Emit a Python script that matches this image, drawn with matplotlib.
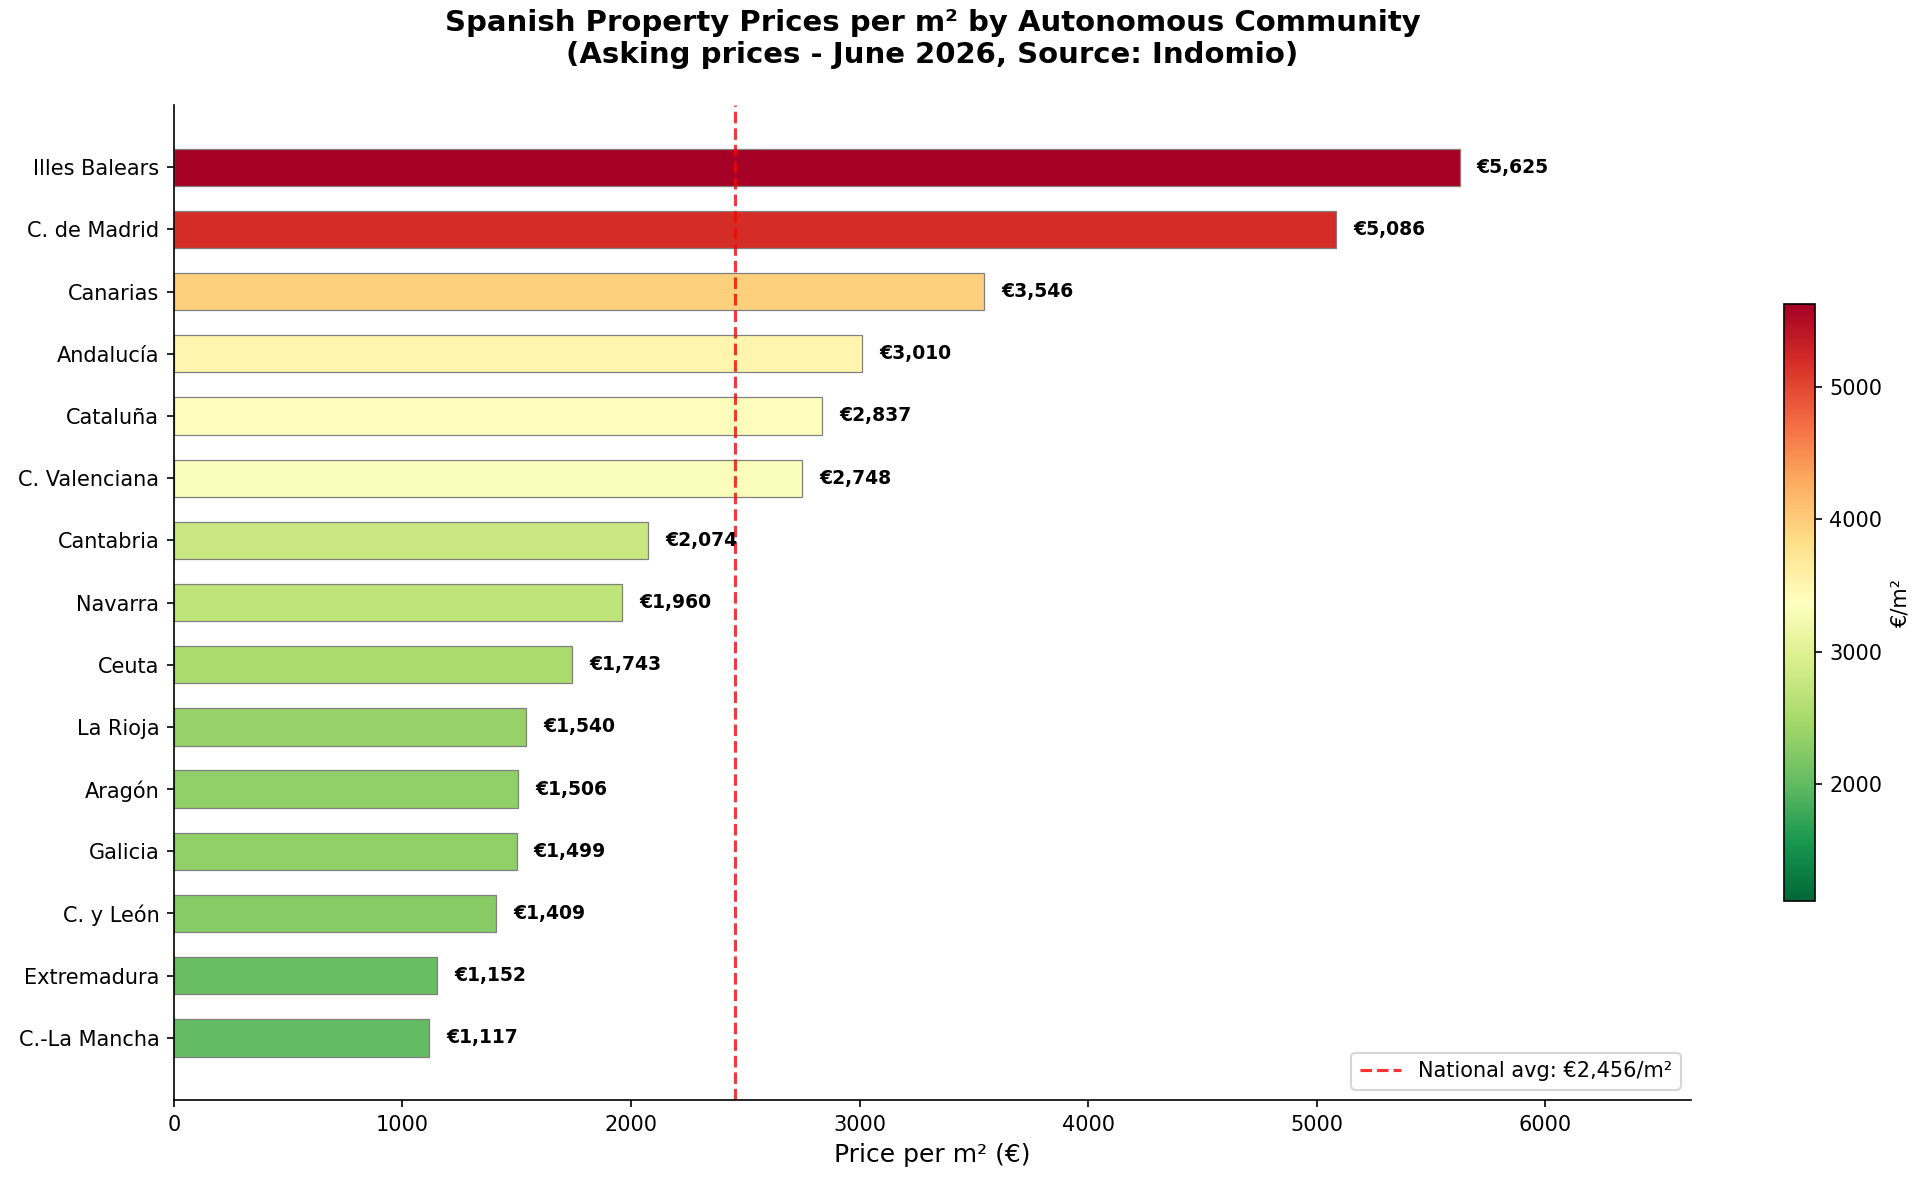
import matplotlib
matplotlib.use("Agg")
import matplotlib.pyplot as plt
import numpy as np
from matplotlib import cm, colors

regions = ["C.-La Mancha", "Extremadura", "C. y León", "Galicia", "Aragón",
           "La Rioja", "Ceuta", "Navarra", "Cantabria", "C. Valenciana",
           "Cataluña", "Andalucía", "Canarias", "C. de Madrid", "Illes Balears"]
prices = [1117, 1152, 1409, 1499, 1506, 1540, 1743, 1960, 2074, 2748,
          2837, 3010, 3546, 5086, 5625]
national_avg = 2456

fig = plt.figure(figsize=(1924 / 150, 1184 / 150), dpi=150)
ax = fig.add_axes([0.0904, 0.0709, 0.7885, 0.8404])
cax = fig.add_axes([0.9272, 0.239, 0.0159, 0.5042])

vals = np.array(prices, dtype=float)
cmap = plt.get_cmap("RdYlGn_r")
bar_colors = cmap(vals / vals.max())
y = np.arange(len(regions))
ax.barh(y, vals, height=0.6, color=bar_colors, edgecolor="gray", linewidth=0.6)
ax.set_yticks(y)
ax.set_yticklabels(regions, fontsize=10)
ax.set_ylim(-1, len(regions))
ax.set_xlim(0, vals.max() * 1.18)
ax.tick_params(axis="x", labelsize=10)

for yi, v in zip(y, vals):
    ax.text(v + 75, yi, f"€{int(v):,}", va="center", ha="left",
            fontsize=9, fontweight="bold")

ax.axvline(national_avg, color="red", linestyle="--", linewidth=1.5, alpha=0.8,
           label=f"National avg: €{national_avg:,}/m²")
ax.legend(loc="lower right", fontsize=10)

ax.set_xlabel("Price per m² (€)", fontsize=12)
ax.set_title("Spanish Property Prices per m² by Autonomous Community\n"
             "(Asking prices - June 2026, Source: Indomio)",
             fontsize=14, fontweight="bold", pad=20)
ax.spines["top"].set_visible(False)
ax.spines["right"].set_visible(False)

sm = cm.ScalarMappable(cmap=cmap, norm=colors.Normalize(vmin=vals.min(), vmax=vals.max()))
sm.set_array([])
cb = fig.colorbar(sm, cax=cax)
cb.set_label("€/m²", fontsize=10)
cb.ax.tick_params(labelsize=10)

fig.savefig("out.png", dpi=150)
